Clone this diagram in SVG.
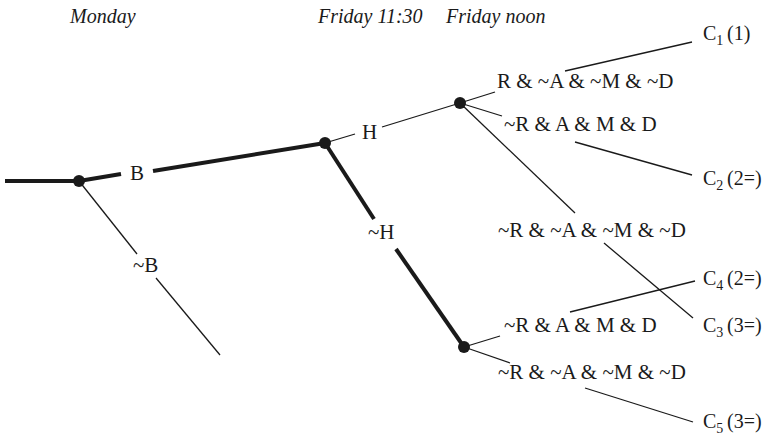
<svg xmlns="http://www.w3.org/2000/svg" width="775" height="438" viewBox="0 0 775 438">
<style>
  text { font-family: "Liberation Serif", "Times New Roman", serif; fill: #1a1a1a; }
  .hdr { font-size: 20px; font-style: italic; }
  .lbl { font-size: 21px; }
  .c { font-size: 20px; }
  .sub { font-size: 14px; }
  .thick { stroke: #1a1a1a; stroke-width: 4; fill: none; }
  .thin { stroke: #1a1a1a; stroke-width: 1.3; fill: none; }
  .dot { fill: #1a1a1a; }
</style>
<rect width="775" height="438" fill="#fff"/>
<g id="headers">
  <text class="hdr" x="70" y="23">Monday</text>
  <text class="hdr" x="318" y="23">Friday 11:30</text>
  <text class="hdr" x="446" y="23">Friday noon</text>
</g>
<g id="connectors">
  <line class="thick" x1="5" y1="181" x2="79" y2="181"/>
  <line class="thick" x1="79" y1="181" x2="121" y2="174"/>
  <line class="thick" x1="153" y1="171" x2="325" y2="143"/>
  <line class="thin" x1="79" y1="181" x2="137" y2="254"/>
  <line class="thin" x1="156" y1="278" x2="220" y2="355"/>
  <line class="thin" x1="325" y1="143" x2="355" y2="134"/>
  <line class="thin" x1="382" y1="127" x2="460" y2="103"/>
  <line class="thick" x1="325" y1="143" x2="374" y2="219"/>
  <line class="thick" x1="396" y1="249" x2="464" y2="347"/>
  <line class="thin" x1="460" y1="103" x2="495" y2="92"/>
  <line class="thin" x1="460" y1="103" x2="502" y2="116"/>
  <line class="thin" x1="460" y1="103" x2="575" y2="213"/>
  <line class="thin" x1="464" y1="347" x2="500" y2="336"/>
  <line class="thin" x1="464" y1="347" x2="510" y2="363"/>
  <line class="thin" x1="565" y1="71" x2="692" y2="42"/>
  <line class="thin" x1="575" y1="142" x2="692" y2="175"/>
  <line class="thin" x1="604" y1="243" x2="693" y2="318"/>
  <line class="thin" x1="570" y1="312" x2="695" y2="281"/>
  <line class="thin" x1="585" y1="388" x2="693" y2="422"/>
</g>
<g id="edge-labels">
  <text class="lbl" x="130" y="180">B</text>
  <text class="lbl" x="133" y="272">~B</text>
  <text class="lbl" x="362" y="139">H</text>
  <text class="lbl" x="368" y="239">~H</text>
</g>
<g id="n0"><circle class="dot" cx="79" cy="181" r="6"/></g>
<g id="n1"><circle class="dot" cx="325" cy="143" r="6"/></g>
<g id="n2"><circle class="dot" cx="460" cy="103" r="6"/></g>
<g id="n3"><circle class="dot" cx="464" cy="347" r="6"/></g>
<g id="outcome-labels">
  <text class="lbl" x="497" y="88">R &amp; ~A &amp; ~M &amp; ~D</text>
  <text class="lbl" x="504" y="131">~R &amp; A &amp; M &amp; D</text>
  <text class="lbl" x="498" y="237">~R &amp; ~A &amp; ~M &amp; ~D</text>
  <text class="lbl" x="504" y="332">~R &amp; A &amp; M &amp; D</text>
  <text class="lbl" x="498" y="379">~R &amp; ~A &amp; ~M &amp; ~D</text>
</g>
<g id="c1"><text class="c" x="703" y="40">C<tspan class="sub" dy="5">1</tspan><tspan x="727" dy="-5">(1)</tspan></text></g>
<g id="c2"><text class="c" x="703" y="185">C<tspan class="sub" dy="5">2</tspan><tspan x="727" dy="-5">(2=)</tspan></text></g>
<g id="c4"><text class="c" x="703" y="285">C<tspan class="sub" dy="5">4</tspan><tspan x="727" dy="-5">(2=)</tspan></text></g>
<g id="c3"><text class="c" x="703" y="332">C<tspan class="sub" dy="5">3</tspan><tspan x="727" dy="-5">(3=)</tspan></text></g>
<g id="c5"><text class="c" x="703" y="428">C<tspan class="sub" dy="5">5</tspan><tspan x="727" dy="-5">(3=)</tspan></text></g>
</svg>
